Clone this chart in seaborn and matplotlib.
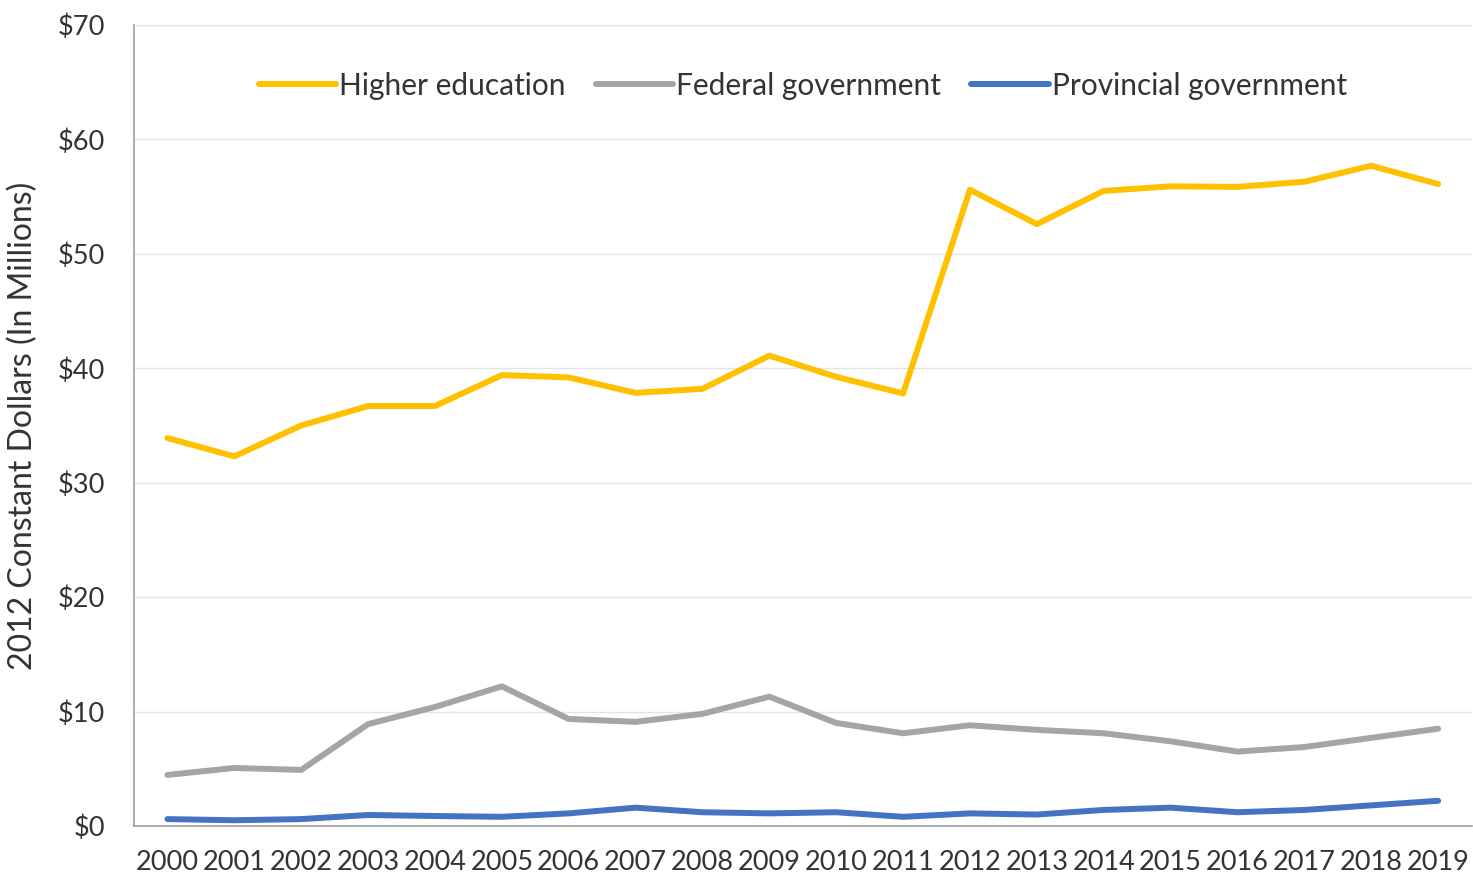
import pandas as pd
import numpy as np
import matplotlib.pyplot as plt
import seaborn as sns

years = list(range(2000, 2020))
higher_ed = [33.9, 32.3, 35.0, 36.7, 36.7, 39.4, 39.2, 37.85, 38.2, 41.1,
             39.25, 37.8, 55.6, 52.6, 55.5, 55.9, 55.85, 56.3, 57.7, 56.1]
federal = [4.46, 5.07, 4.9, 8.9, 10.4, 12.2, 9.35, 9.1, 9.8, 11.3,
           9.0, 8.1, 8.8, 8.4, 8.1, 7.4, 6.5, 6.9, 7.7, 8.5]
provincial = [0.6, 0.5, 0.6, 0.96, 0.87, 0.8, 1.1, 1.6, 1.2, 1.1,
              1.2, 0.8, 1.1, 1.0, 1.4, 1.6, 1.2, 1.4, 1.8, 2.2]
series_names = ["Higher education", "Federal government", "Provincial government"]
colors = ["#FFC000", "#A5A5A5", "#4472C4"]

df = pd.DataFrame({"year": years, series_names[0]: higher_ed,
                   series_names[1]: federal, series_names[2]: provincial})
df = df.melt(id_vars="year", var_name="source", value_name="value")

sns.set_style("white")
plt.rcParams['font.family'] = ['Lato', 'DejaVu Sans']

fig = plt.figure(figsize=(14.73, 8.8), dpi=100)
ax = fig.add_axes([0.091, 0.0614, 0.908, 0.9102])
sns.lineplot(data=df, x="year", y="value", hue="source", palette=colors,
             linewidth=4.3, ax=ax)

ax.set_xlim(1999.5, 2019.5)
ax.set_ylim(0, 70)
ax.set_xticks(years)
ax.set_xticklabels([str(y) for y in years], fontsize=19.5, color="#333333")
ax.set_yticks(range(0, 71, 10))
ax.set_yticklabels(["$%d" % v for v in range(0, 71, 10)], fontsize=19.5, color="#333333")
ax.tick_params(axis="x", length=5, color="#999999", pad=12)
ax.tick_params(axis="y", length=0, pad=21)
ax.yaxis.grid(True, color="#E4E4E4", linewidth=1)
ax.set_axisbelow(True)
for s in ["top", "right"]:
    ax.spines[s].set_visible(False)
for s in ["left", "bottom"]:
    ax.spines[s].set_color("#A0A0A0")
    ax.spines[s].set_linewidth(1.2)
ax.set_xlabel("")
ax.set_ylabel("2012 Constant Dollars (In Millions)", fontsize=23, color="#333333", labelpad=14)

ax.legend(loc="upper center", ncol=3, frameon=False, fontsize=21.5,
          bbox_to_anchor=(0.5, 0.975), handlelength=2.6, handletextpad=0.1,
          columnspacing=1.0, labelcolor="#333333")

plt.savefig("out.png", dpi=100)
